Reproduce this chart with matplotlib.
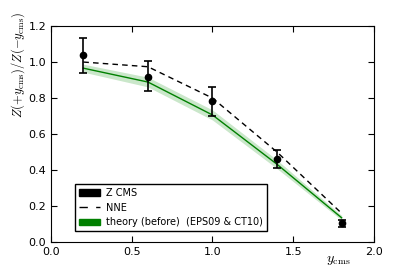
import matplotlib
matplotlib.use("Agg")
import matplotlib.pyplot as plt
from matplotlib.patches import Patch
from matplotlib.lines import Line2D

plt.rcParams['mathtext.fontset'] = 'cm'
plt.rcParams['font.family'] = ['DejaVu Sans']

y_cms = [0.2, 0.6, 1.0, 1.4, 1.8]
cms_val = [1.037, 0.919, 0.782, 0.463, 0.104]
cms_lo = [0.937, 0.837, 0.700, 0.413, 0.085]
cms_hi = [1.135, 1.004, 0.859, 0.513, 0.120]
nne_val = [1.0, 0.974, 0.80, 0.50, 0.16]
theory_val = [0.966, 0.889, 0.706, 0.432, 0.135]
theory_lo = [0.944, 0.862, 0.678, 0.408, 0.122]
theory_hi = [0.988, 0.916, 0.734, 0.456, 0.148]

fig = plt.figure(figsize=(4.15, 2.77), dpi=100)
ax = fig.add_axes([0.123, 0.126, 0.778, 0.78])

ax.fill_between(y_cms, theory_lo, theory_hi, color='#2ca02c', alpha=0.25, lw=0)
ax.plot(y_cms, theory_val, color='green', lw=1.0)
ax.plot(y_cms, nne_val, color='black', ls='--', dashes=(4, 3), lw=1.0)
yerr = [[v - l for v, l in zip(cms_val, cms_lo)], [h - v for v, h in zip(cms_val, cms_hi)]]
ax.errorbar(y_cms, cms_val, yerr=yerr, fmt='o', color='black', ms=4.5, capsize=3,
            elinewidth=1.2, capthick=1.2)

ax.set_xlim(0, 2.0)
ax.set_ylim(0, 1.2)
ax.set_xticks([0.0, 0.5, 1.0, 1.5, 2.0])
ax.set_yticks([0.0, 0.2, 0.4, 0.6, 0.8, 1.0, 1.2])
ax.tick_params(direction='in', top=True, right=True, labelsize=8, length=4)
ax.set_xlabel(r'$y_{\rm cms}$', fontsize=10)
ax.xaxis.set_label_coords(0.89, -0.05)
ax.set_ylabel(r'$Z(+y_{\rm cms})/Z(-y_{\rm cms})$', fontsize=9)
ax.yaxis.set_label_coords(-0.075, 0.82)

handles = [Patch(facecolor='black', edgecolor='black'),
           Line2D([0], [0], color='black', ls='--', dashes=(6, 6), lw=1.0),
           Patch(facecolor='green', edgecolor='green')]
labels = ['Z CMS', 'NNE', 'theory (before)  (EPS09 & CT10)']
leg = ax.legend(handles, labels, loc='lower left', bbox_to_anchor=(0.075, 0.05),
                borderaxespad=0, fontsize=7, fancybox=False, edgecolor='black',
                framealpha=1, handlelength=2.1, handletextpad=0.7,
                borderpad=0.4, labelspacing=0.5)
leg.get_frame().set_linewidth(1.0)

fig.savefig('out.png', dpi=100)
